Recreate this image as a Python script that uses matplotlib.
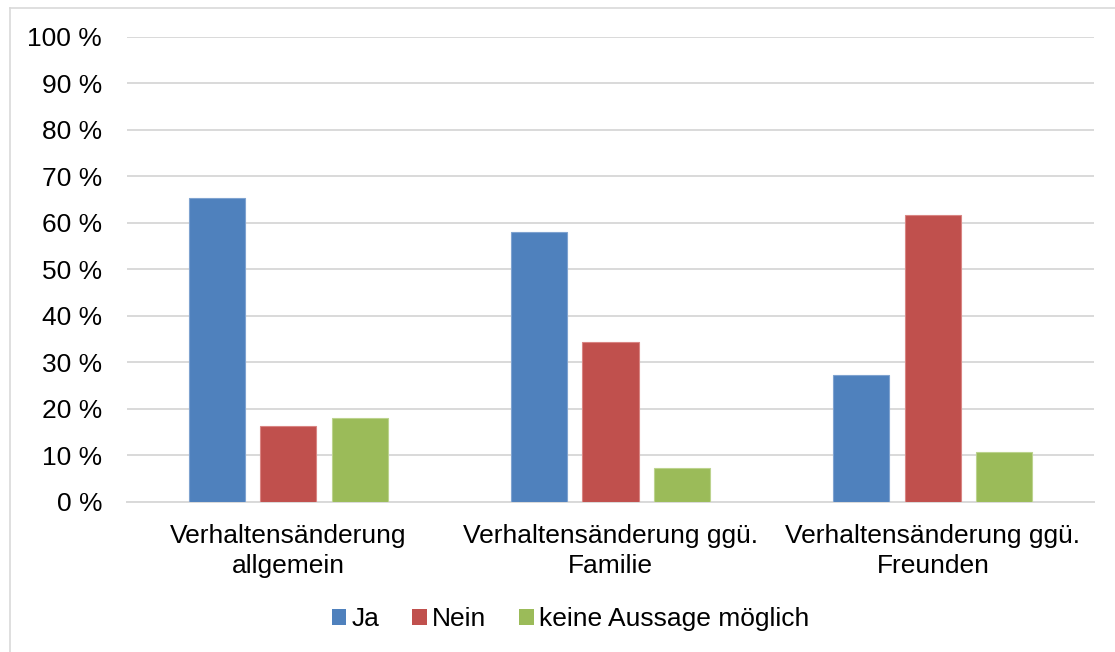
import matplotlib
matplotlib.use("Agg")
import matplotlib.pyplot as plt
from matplotlib.patches import Patch
from matplotlib.lines import Line2D
import numpy as np

plt.rcParams['font.family'] = ['Liberation Sans', 'DejaVu Sans']

categories = ["Verhaltensänderung\nallgemein",
              "Verhaltensänderung ggü.\nFamilie",
              "Verhaltensänderung ggü.\nFreunden"]
series_names = ["Ja", "Nein", "keine Aussage möglich"]
ja = [65.3, 58.0, 27.2]
nein = [16.2, 34.4, 61.7]
keine = [18.0, 7.2, 10.7]
yticks = [0, 10, 20, 30, 40, 50, 60, 70, 80, 90, 100]
ytick_labels = [f"{v} %" for v in yticks]

colors = ["#4F81BD", "#C0504D", "#9BBB59"]
edges = ["#7FA3D0", "#D98583", "#BCD38E"]

W, H = 1115, 652
fig = plt.figure(figsize=(W / 100, H / 100), dpi=100)
fig.patch.set_facecolor("white")

# outer chart frame (left and top edges)
frame_col = "#D9D9D9"
fig.add_artist(Line2D([10 / W, 10 / W], [0, 1 - 8 / H], transform=fig.transFigure,
                      color=frame_col, lw=1.2))
fig.add_artist(Line2D([10 / W, 1], [1 - 8 / H, 1 - 8 / H], transform=fig.transFigure,
                      color=frame_col, lw=1.2))

ax = fig.add_axes([127 / W, 1 - 501.7 / H, (1094 - 127) / W, (501.7 - 37) / H])

x = np.arange(len(categories))
width = 0.174
step = 0.222
for i, (vals, c, ec, name) in enumerate(zip([ja, nein, keine], colors, edges, series_names)):
    ax.bar(x + (i - 1) * step, vals, width, color=c, edgecolor=ec, linewidth=0.8,
           label=name, zorder=3)

ax.set_xlim(-0.5, len(categories) - 0.5)
ax.set_ylim(0, 100)
ax.set_yticks(yticks)
ax.set_yticklabels(ytick_labels)
ax.set_xticks(x)
ax.set_xticklabels(categories, linespacing=1.32)
ax.tick_params(axis="both", length=0, labelsize=19, labelcolor="#000000")
ax.tick_params(axis="y", pad=18)
ax.tick_params(axis="x", pad=16)
ax.grid(axis="y", color="#D9D9D9", linewidth=1.4, zorder=0)
ax.set_axisbelow(True)
for s in ["left", "right", "top"]:
    ax.spines[s].set_visible(False)
ax.spines["bottom"].set_color("#D9D9D9")
ax.spines["bottom"].set_linewidth(1.4)

handles = [Patch(facecolor=c, edgecolor="none") for c in colors]
fig.legend(handles, series_names, loc="center", bbox_to_anchor=(570.5 / W, 1 - 619 / H),
           ncol=3, frameon=False, fontsize=19, handlelength=0.55, handleheight=0.55,
           handletextpad=0.2, columnspacing=1.25, borderpad=0)

fig.savefig("out.png", dpi=100, facecolor="white")
